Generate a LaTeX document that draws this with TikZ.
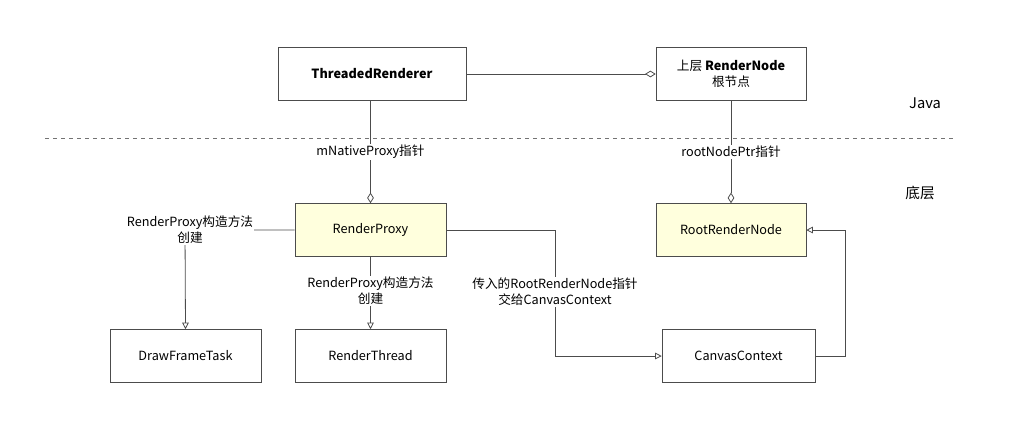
\documentclass[tikz,border=0pt]{standalone}
\usepackage{fontspec}
\setmainfont{Noto Sans CJK SC}
\usetikzlibrary{arrows.meta}
\definecolor{yel}{HTML}{FFFFDD}
\tikzset{
 box/.style={draw=black!70, fill=white, minimum width=#1*0.75pt, minimum height=53*0.75pt, inner sep=0pt, font=\fontsize{9.5}{12}\selectfont, align=center},
 ybox/.style={box=#1, fill=yel},
 ln/.style={draw=black!70, line width=0.6pt},
 tri/.style={ln, -{Triangle[open, length=5pt, width=5pt]}},
 dia/.style={ln, -{Diamond[open, length=8pt, width=5pt]}},
 lbl/.style={fill=white, font=\fontsize{9.5}{12}\selectfont, align=center, inner sep=1pt}
}
\begin{document}
\begin{tikzpicture}[x=0.75pt, y=-0.75pt]
\useasboundingbox (0,0) rectangle (1011,430);
\node[box=188] (tr) at (372,74) {\textbf{ThreadedRenderer}};
\node[box=150] (rn) at (731,74) {上层 \textbf{RenderNode}\\根节点};
\node[font=\fontsize{11}{13}\selectfont] (java) at (925,103) {Java};
\node[font=\fontsize{11}{13}\selectfont] (dc) at (920,193) {底层};
\coordinate (d1) at (45,138); \coordinate (d2) at (955,138);
\draw[dashed, black!55, line width=0.6pt] (d1) -- (d2);
\node[ybox=151] (rp) at (370.5,230) {RenderProxy};
\node[ybox=150] (rrn) at (731,230) {RootRenderNode};
\node[box=151] (dft) at (185.5,356) {DrawFrameTask};
\node[box=151] (rt) at (370.5,356) {RenderThread};
\node[box=153] (cc) at (738.5,356) {CanvasContext};
\draw[dia] (tr.east) -- (rn.west);
\draw[dia] (tr.south -| rp.north) -- node[lbl] {mNativeProxy指针} (rp.north);
\draw[dia] (rn.south) -- node[lbl] {rootNodePtr指针} (rrn.north);
\coordinate (a1) at (185,230);
\draw[tri] (rp.west) -- (a1) -- (dft.north);
\node[lbl] (l1) at (190,230) {RenderProxy构造方法\\创建};
\draw[tri] (rp.south) -- node[lbl, pos=0.47] {RenderProxy构造方法\\创建} (rt.north);
\coordinate (b1) at (555,230); \coordinate (b2) at (555,356);
\draw[tri] (rp.east) -- (b1) -- (b2) -- (cc.west);
\node[lbl] (l2) at (555,292) {传入的RootRenderNode指针\\交给CanvasContext};
\coordinate (c1) at (845,356); \coordinate (c2) at (845,230);
\draw[tri] (cc.east) -- (c1) -- (c2) -- (rrn.east);
\end{tikzpicture}
\end{document}
